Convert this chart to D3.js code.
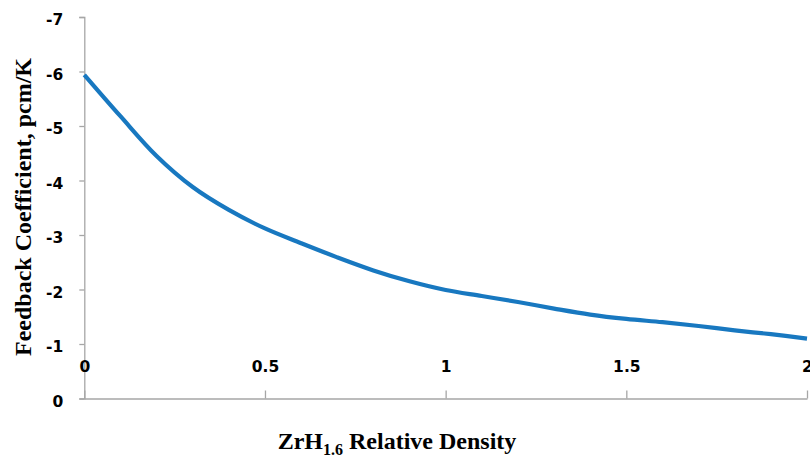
<!DOCTYPE html>
<html>
<head>
<meta charset="utf-8">
<script src="https://cdn.jsdelivr.net/npm/d3@7"></script>
<style>
  html, body { margin: 0; padding: 0; background: #fff; }
  svg { display: block; }
</style>
</head>
<body>
<svg id="chart" width="810" height="457"></svg>
<script>
const densities = [0, 0.1, 0.2, 0.3, 0.4, 0.5, 0.6, 0.7, 0.8, 0.9, 1.0, 1.1, 1.2, 1.3, 1.4, 1.5, 1.6, 1.7, 1.8, 1.9, 2.0];
const feedback = [-5.94, -5.18, -4.45, -3.88, -3.46, -3.12, -2.85, -2.59, -2.35, -2.15, -1.99, -1.88, -1.77, -1.65, -1.54, -1.46, -1.40, -1.33, -1.25, -1.18, -1.10];
const xTicks = [0, 0.5, 1, 1.5, 2];
const yTicks = [0, -1, -2, -3, -4, -5, -6, -7];
const xTitleMain = "ZrH";
const xTitleSub = "1.6";
const xTitleRest = " Relative Density";
const yTitle = "Feedback Coefficient, pcm/K";

const svg = d3.select("#chart");
const mLeft = 84.3, mRight = 807, mTop = 17, mBottom = 398.5;

const x = d3.scaleLinear().domain([0, 2]).range([mLeft, mRight]);
const y = d3.scaleLinear().domain([0, -7]).range([mBottom, mTop]);

const axisColor = "#a6a6a6";
const tickFont = "'DejaVu Sans', Verdana, sans-serif";

// Y axis
const yAxis = svg.append("g").attr("transform", `translate(${mLeft},0)`)
  .call(d3.axisLeft(y).tickValues(yTicks).tickSize(5).tickPadding(16).tickFormat(d => String(d)));
yAxis.select(".domain").attr("stroke", axisColor).attr("stroke-width", 1.3);
yAxis.selectAll(".tick line").attr("stroke", axisColor).attr("stroke-width", 1.3);
yAxis.selectAll(".tick text").attr("fill", "#000").attr("font-family", tickFont)
  .attr("font-weight", "bold").attr("font-size", "15.5px").attr("dy", "0.5em");

// X axis (ticks point upward)
const xAxis = svg.append("g").attr("transform", `translate(0,${mBottom})`)
  .call(d3.axisBottom(x).tickValues(xTicks).tickSizeInner(-8).tickSizeOuter(0).tickFormat(d => String(d)));
xAxis.select(".domain").attr("stroke", axisColor).attr("stroke-width", 1.3);
xAxis.selectAll(".tick line").attr("stroke", axisColor).attr("stroke-width", 1.3);
xAxis.selectAll(".tick text").attr("fill", "#000").attr("font-family", tickFont)
  .attr("font-weight", "bold").attr("font-size", "15.5px")
  .attr("y", 0).attr("dy", null).attr("transform", "translate(0,-27)");

// Line
const line = d3.line().x((d, i) => x(densities[i])).y(d => y(d)).curve(d3.curveCatmullRom.alpha(0.5));
svg.append("path").datum(feedback)
  .attr("d", line)
  .attr("fill", "none")
  .attr("stroke", "#1878c0")
  .attr("stroke-width", 4.2)
  .attr("stroke-linecap", "butt");

// Y title
svg.append("text")
  .attr("transform", "translate(31,207) rotate(-90)")
  .attr("text-anchor", "middle")
  .attr("font-family", "'Liberation Serif', 'Times New Roman', serif")
  .attr("font-weight", "bold").attr("font-size", "24px")
  .attr("fill", "#000")
  .text(yTitle);

// X title
const xt = svg.append("text")
  .attr("x", 397).attr("y", 449)
  .attr("text-anchor", "middle")
  .attr("font-family", "'Liberation Serif', 'Times New Roman', serif")
  .attr("font-weight", "bold").attr("font-size", "24px")
  .attr("fill", "#000");
xt.append("tspan").text(xTitleMain);
xt.append("tspan").attr("font-size", "16px").attr("dy", 6).text(xTitleSub);
xt.append("tspan").attr("dy", -6).text(xTitleRest);
</script>
</body>
</html>
